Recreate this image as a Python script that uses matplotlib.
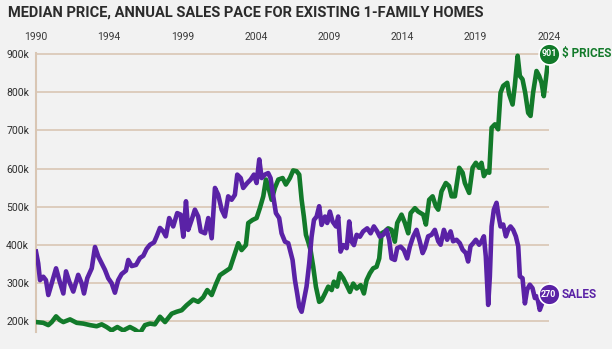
import matplotlib
matplotlib.use("Agg")
import matplotlib.pyplot as plt
import numpy as np

# Annual sales pace (purple), same scale as prices
sales_year = [1990.00, 1990.15, 1990.27, 1990.49, 1990.67, 1990.83, 1991.06, 1991.35, 1991.57, 1991.84,
              1992.02, 1992.24, 1992.51, 1992.84, 1993.07, 1993.23, 1993.45, 1993.75, 1993.97, 1994.19,
              1994.42, 1994.64, 1994.86, 1995.09, 1995.31, 1995.53, 1995.76, 1996.05, 1996.21, 1996.44,
              1996.73, 1996.99, 1997.22, 1997.44, 1997.67, 1997.94, 1998.12, 1998.34, 1998.56, 1998.74,
              1998.96, 1999.23, 1999.50, 1999.73, 1999.91, 2000.09, 2000.24, 2000.47, 2000.69, 2000.91,
              2001.08, 2001.37, 2001.59, 2001.82, 2002.04, 2002.26, 2002.49, 2002.71, 2002.93, 2003.16,
              2003.38, 2003.54, 2003.77, 2003.94, 2004.21, 2004.44, 2004.66, 2004.84, 2005.02, 2005.18,
              2005.40, 2005.62, 2005.78, 2005.96, 2006.14, 2006.36, 2006.52, 2006.75, 2006.97, 2007.26,
              2007.42, 2007.57, 2007.71, 2007.87, 2008.02, 2008.20, 2008.38, 2008.54, 2008.70, 2008.88,
              2009.05, 2009.21, 2009.44, 2009.59, 2009.77, 2009.95, 2010.18, 2010.33, 2010.49, 2010.67,
              2010.90, 2011.07, 2011.23, 2011.39, 2011.57, 2011.79, 2012.01, 2012.28, 2012.51, 2012.73,
              2012.95, 2013.13, 2013.36, 2013.59, 2013.76, 2013.92, 2014.14, 2014.30, 2014.53, 2014.75,
              2014.97, 2015.15, 2015.37, 2015.60, 2015.82, 2016.01, 2016.16, 2016.38, 2016.61, 2016.83,
              2017.06, 2017.22, 2017.44, 2017.66, 2017.89, 2018.06, 2018.29, 2018.51, 2018.70, 2018.92,
              2019.07, 2019.23, 2019.41, 2019.59, 2019.81, 2019.97, 2020.13, 2020.26, 2020.42, 2020.53,
              2020.65, 2020.80, 2020.98, 2021.12, 2021.25, 2021.43, 2021.61, 2021.76, 2021.92, 2022.10,
              2022.28, 2022.44, 2022.55, 2022.73, 2022.89, 2023.04, 2023.22, 2023.40, 2023.56, 2023.71,
              2023.89, 2024.05, 2024.16, 2024.50]
sales = [382, 351, 307, 316, 307, 268, 299, 338, 307, 272,
         330, 303, 277, 321, 299, 272, 312, 338, 394, 369,
         351, 334, 312, 299, 274, 307, 323, 332, 360, 344,
         347, 365, 371, 389, 400, 406, 422, 444, 435, 422,
         470, 448, 483, 479, 421, 514, 439, 465, 492, 474,
         435, 430, 470, 417, 549, 531, 492, 474, 527, 518,
         531, 584, 575, 549, 562, 571, 584, 562, 624, 575,
         584, 588, 575, 527, 483, 470, 430, 408, 404, 360,
         307, 272, 237, 224, 254, 290, 351, 421, 465, 474,
         501, 452, 474, 457, 487, 461, 448, 474, 382, 399,
         391, 461, 408, 399, 426, 421, 435, 443, 430, 448,
         435, 421, 426, 439, 413, 364, 360, 391, 395, 386,
         364, 395, 421, 439, 408, 378, 391, 422, 426, 439,
         409, 400, 439, 413, 435, 409, 413, 404, 387, 378,
         356, 396, 404, 413, 400, 409, 422, 369, 242, 316,
         448, 492, 510, 475, 448, 453, 422, 439, 448, 439,
         422, 396, 317, 312, 246, 282, 295, 286, 260, 264,
         229, 246, 255, 270]

# Median price (green), thousands of dollars
price_year = [1990.00, 1990.49, 1990.83, 1991.06, 1991.35, 1991.61, 1991.84, 1992.29, 1992.74, 1993.18,
              1993.63, 1994.08, 1994.42, 1994.75, 1995.09, 1995.47, 1995.87, 1996.32, 1996.66, 1996.99,
              1997.33, 1997.67, 1998.00, 1998.34, 1998.68, 1999.13, 1999.46, 1999.80, 2000.13, 2000.58,
              2000.91, 2001.25, 2001.52, 2001.82, 2002.11, 2002.37, 2002.71, 2003.05, 2003.27, 2003.61,
              2003.83, 2004.12, 2004.28, 2004.57, 2004.84, 2005.06, 2005.29, 2005.47, 2005.62, 2005.85,
              2006.07, 2006.30, 2006.59, 2006.81, 2007.08, 2007.30, 2007.53, 2007.71, 2007.87, 2008.02,
              2008.16, 2008.31, 2008.47, 2008.65, 2008.83, 2009.05, 2009.21, 2009.44, 2009.66, 2009.89,
              2010.04, 2010.26, 2010.44, 2010.67, 2010.90, 2011.12, 2011.34, 2011.57, 2011.84, 2012.06,
              2012.24, 2012.46, 2012.68, 2012.91, 2013.09, 2013.25, 2013.47, 2013.69, 2013.92, 2014.14,
              2014.30, 2014.59, 2014.82, 2015.04, 2015.20, 2015.49, 2015.71, 2016.05, 2016.23, 2016.45,
              2016.68, 2016.90, 2017.06, 2017.28, 2017.57, 2017.79, 2017.96, 2018.18, 2018.47, 2018.70,
              2018.85, 2019.14, 2019.37, 2019.59, 2019.81, 2019.97, 2020.13, 2020.31, 2020.49, 2020.65,
              2020.87, 2021.09, 2021.25, 2021.43, 2021.70, 2021.83, 2022.06, 2022.21, 2022.40, 2022.55,
              2022.73, 2022.91, 2023.11, 2023.27, 2023.44, 2023.67, 2023.85, 2024.01, 2024.16, 2024.30,
              2024.50]
price = [197, 195, 189, 197, 212, 202, 197, 204, 195, 193,
         189, 186, 191, 184, 175, 184, 175, 184, 177, 168,
         189, 193, 191, 211, 197, 219, 224, 228, 241, 256,
         250, 262, 281, 268, 297, 320, 329, 338, 364, 404,
         386, 399, 457, 465, 470, 496, 527, 571, 553, 518,
         549, 571, 575, 558, 575, 595, 593, 584, 518, 474,
         426, 408, 386, 342, 290, 250, 254, 272, 290, 281,
         303, 290, 325, 312, 294, 276, 298, 285, 294, 272,
         307, 325, 338, 342, 364, 430, 435, 443, 439, 408,
         457, 479, 457, 430, 483, 496, 487, 479, 453, 518,
         527, 501, 492, 540, 562, 554, 527, 527, 602, 589,
         562, 536, 602, 615, 602, 615, 580, 593, 589, 707,
         716, 703, 799, 817, 825, 795, 768, 817, 896, 843,
         834, 799, 746, 738, 799, 856, 843, 825, 790, 834,
         901]

year_labels = ["1990", "1994", "1999", "2004", "2009", "2014", "2019", "2024"]
y_ticks = [200, 300, 400, 500, 600, 700, 800, 900]

BG = "#f2f2f2"
GREEN = "#127a2a"
PURPLE = "#5a22a6"
GRID = "#d9c6b4"
NARROW = ["Liberation Sans Narrow", "Roboto"]

fig = plt.figure(figsize=(6.12, 3.49), dpi=100, facecolor=BG)
ax = fig.add_axes([0.0588, 0.0499, 0.838, 0.798], facecolor=BG)

ax.plot(price_year, price, color=GREEN, lw=3.3, solid_joinstyle="round", zorder=3)
ax.plot(sales_year, sales, color=PURPLE, lw=3.3, solid_joinstyle="round", zorder=4)

x0, x1 = price_year[0], price_year[-1]
ax.set_xlim(x0, x1)
ax.set_ylim(172, 903)

ax.set_yticks(y_ticks)
ax.set_yticklabels([f"{v}k" for v in y_ticks])
ax.set_xticks(np.linspace(x0, x1, len(year_labels)))
ax.set_xticklabels(year_labels)
ax.xaxis.tick_top()
ax.tick_params(axis="x", length=0, pad=8, labelsize=7.5, labelcolor="#3a3a3a")
ax.tick_params(axis="y", length=0, pad=5, labelsize=7.5, labelcolor="#2e2e2e")
for lab in ax.get_xticklabels() + ax.get_yticklabels():
    lab.set_family("Roboto")

ax.grid(axis="y", color=GRID, lw=1.2)
ax.set_axisbelow(True)
for s in ["top", "right", "bottom"]:
    ax.spines[s].set_visible(False)
ax.spines["left"].set_color(GRID)
ax.spines["left"].set_linewidth(1.5)

# end-point badges
for yr, val, col, name in [(price_year[-1], price[-1], GREEN, "$ PRICES"),
                           (sales_year[-1], sales[-1], PURPLE, "SALES")]:
    ax.plot([yr], [val], "o", ms=15, color=col, mec="white", mew=1.2, zorder=6, clip_on=False)
    ax.text(yr, val, str(val), color="white", fontsize=6.5, fontweight="bold", family=NARROW,
            ha="center", va="center", zorder=7, clip_on=False)
    ax.annotate(name, (yr, val), xytext=(9.5, 0), textcoords="offset points", color=col,
                fontsize=8.5, fontweight="bold", family=NARROW,
                ha="left", va="center", annotation_clip=False)

fig.text(0.013, 0.965, "MEDIAN PRICE, ANNUAL SALES PACE FOR EXISTING 1-FAMILY HOMES",
         fontsize=10.5, fontweight="bold", color="#2b2b2b",
         family=NARROW, ha="left", va="center")

fig.savefig("out.png", dpi=100, facecolor=BG)
